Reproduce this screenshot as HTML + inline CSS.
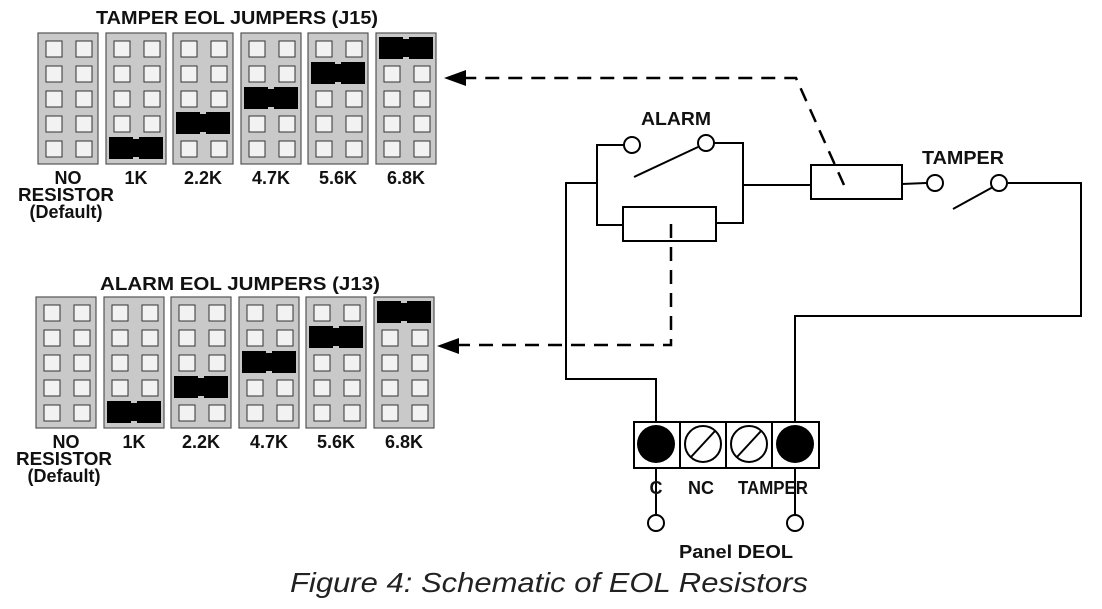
<!DOCTYPE html>
<html><head><style>body{margin:0;background:#fff}svg{display:block}</style></head><body>
<svg width="1102" height="609" viewBox="0 0 1102 609" xmlns="http://www.w3.org/2000/svg" font-family="Liberation Sans, Arial, sans-serif">
<defs>
<g id="blk">
<rect x="0" y="0" width="60" height="131" fill="#c9c9c9" stroke="#555" stroke-width="1.2"/>
<g fill="#f2f2f2" stroke="#333" stroke-width="1">
<rect x="8" y="8" width="16" height="16"/><rect x="38" y="8" width="16" height="16"/>
<rect x="8" y="33" width="16" height="16"/><rect x="38" y="33" width="16" height="16"/>
<rect x="8" y="58" width="16" height="16"/><rect x="38" y="58" width="16" height="16"/>
<rect x="8" y="83" width="16" height="16"/><rect x="38" y="83" width="16" height="16"/>
<rect x="8" y="108" width="16" height="16"/><rect x="38" y="108" width="16" height="16"/>
</g>
</g>
<g id="jmp"><rect x="3" y="0" width="54" height="22" fill="#000"/><rect x="27" y="0" width="6" height="2" fill="#c9c9c9"/><rect x="27" y="20" width="6" height="2" fill="#c9c9c9"/></g>
<g id="grp">
<use href="#blk" x="38" y="33"/><use href="#blk" x="106" y="33"/><use href="#blk" x="173" y="33"/>
<use href="#blk" x="241" y="33"/><use href="#blk" x="308" y="33"/><use href="#blk" x="376" y="33"/>
<use href="#jmp" x="106" y="137"/><use href="#jmp" x="173" y="112"/><use href="#jmp" x="241" y="87"/>
<use href="#jmp" x="308" y="62"/><use href="#jmp" x="376" y="37"/>
<g font-weight="bold" font-size="18" text-anchor="middle" fill="#111">
<text x="68" y="184">NO</text><text x="136" y="184">1K</text><text x="203" y="184">2.2K</text>
<text x="271" y="184">4.7K</text><text x="338" y="184">5.6K</text><text x="406" y="184">6.8K</text>
<text x="66" y="201" textLength="96" lengthAdjust="spacingAndGlyphs">RESISTOR</text><text x="66" y="218">(Default)</text>
</g>
</g>
</defs>
<text x="96" y="24" font-weight="bold" font-size="18" fill="#111" textLength="282" lengthAdjust="spacingAndGlyphs">TAMPER EOL JUMPERS (J15)</text>
<use href="#grp"/>
<text x="100" y="290" font-weight="bold" font-size="18" fill="#111" textLength="280" lengthAdjust="spacingAndGlyphs">ALARM EOL JUMPERS (J13)</text>
<use href="#grp" x="-2" y="264"/>

<g fill="none" stroke="#000" stroke-width="2">
<polyline points="656,422 656,379 566,379 566,183 597,183"/>
<polyline points="629,145 597,145 597,225 623,225"/>
<polyline points="706,143 743,143 743,223 716,223"/>
<rect x="623" y="207" width="93" height="34"/>
<line x1="634" y1="177" x2="698" y2="147"/>
<polyline points="743,185 811,185"/>
<rect x="811" y="165" width="91" height="34"/>
<line x1="902" y1="184" x2="926" y2="183"/>
<line x1="953" y1="209" x2="993" y2="187"/>
<polyline points="1008,183 1081,183 1081,316 795,316 795,422"/>
<rect x="634" y="422" width="185" height="46"/>
<line x1="680" y1="422" x2="680" y2="468"/><line x1="726" y1="422" x2="726" y2="468"/><line x1="772" y1="422" x2="772" y2="468"/>
<line x1="656" y1="468" x2="656" y2="515"/><line x1="795" y1="468" x2="795" y2="515"/>
<line x1="691" y1="457" x2="715" y2="431"/><line x1="737" y1="457" x2="761" y2="431"/>
</g>
<g fill="#fff" stroke="#000" stroke-width="2">
<circle cx="632" cy="145" r="8"/><circle cx="706" cy="143" r="8"/>
<circle cx="935" cy="183" r="8"/><circle cx="999" cy="183" r="8"/>
<circle cx="703" cy="444" r="18" fill="none"/><circle cx="749" cy="444" r="18" fill="none"/>
<circle cx="656" cy="523" r="8"/><circle cx="795" cy="523" r="8"/>
</g>
<circle cx="656" cy="444" r="19" fill="#000"/><circle cx="795" cy="444" r="19" fill="#000"/>
<g fill="none" stroke="#000" stroke-width="2.5" stroke-dasharray="14,9">
<polyline points="844,185 796,78 460,78"/>
<polyline points="671,224 671,345 458,345"/>
</g>
<polygon points="444,78 466,70 466,86" fill="#000"/>
<polygon points="437,346 459,338 459,354" fill="#000"/>
<g font-weight="bold" font-size="18" fill="#111">
<text x="641" y="125" textLength="70" lengthAdjust="spacingAndGlyphs">ALARM</text>
<text x="922" y="164" textLength="82" lengthAdjust="spacingAndGlyphs">TAMPER</text>
<text x="656" y="494" text-anchor="middle">C</text>
<text x="701" y="494" text-anchor="middle">NC</text>
<text x="738" y="494" textLength="70" lengthAdjust="spacingAndGlyphs">TAMPER</text>
<text x="679" y="558" textLength="114" lengthAdjust="spacingAndGlyphs">Panel DEOL</text>
</g>
<text x="290" y="592" font-style="italic" font-size="28" fill="#222" textLength="518" lengthAdjust="spacingAndGlyphs">Figure 4: Schematic of EOL Resistors</text>
</svg>
</body></html>
